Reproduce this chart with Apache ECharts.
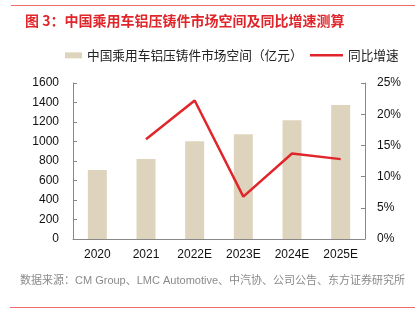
<!DOCTYPE html>
<html>
<head>
<meta charset="utf-8">
<script src="https://cdn.jsdelivr.net/npm/echarts@6/dist/echarts.min.js"></script>
<style>
  html, body { margin: 0; padding: 0; background: #fff; }
  #chart { width: 415px; height: 328px; }
</style>
</head>
<body>
<div id="chart"></div>
<script>
// Market size of aluminium die castings for Chinese passenger cars, and YoY growth
const years = ['2020', '2021', '2022E', '2023E', '2024E', '2025E'];
const marketSize = [708, 820, 1003, 1074, 1217, 1374];        // 亿元
const yoyGrowth = [null, 16.0, 22.2, 6.8, 13.7, 12.8];         // %
const leftTicks = { min: 0, max: 1600, interval: 200 };
const rightTicks = { min: 0, max: 25, interval: 5 };

const barName = '中国乘用车铝压铸件市场空间（亿元）';
const lineName = '同比增速';
const FONT = '"Liberation Sans", "Noto Sans CJK SC", sans-serif';
const CJK = '"Noto Sans CJK SC", sans-serif';
const RED = '#e0262a';

const chart = echarts.init(document.getElementById('chart'), null, { renderer: 'canvas' });

chart.setOption({
  animation: false,
  textStyle: { fontFamily: FONT },
  title: {
    text: '图 3：中国乘用车铝压铸件市场空间及同比增速测算',
    left: 20, top: 9,
    textStyle: { color: RED, fontSize: 14, fontWeight: 'bold', fontFamily: CJK }
  },
  legend: [
    {
      data: [{ name: barName, icon: 'rect' }],
      left: 60, top: 44,
      itemWidth: 17, itemHeight: 6, itemGap: 5,
      textStyle: { fontSize: 12.7, color: '#222', fontFamily: CJK }
    },
    {
      data: [{ name: lineName, icon: 'rect' }],
      left: 305, top: 44,
      itemWidth: 33, itemHeight: 2.5, itemGap: 5,
      textStyle: { fontSize: 12.7, color: '#222', fontFamily: CJK }
    }
  ],
  grid: { left: 73, right: 50, top: 83, bottom: 89, containLabel: false },
  xAxis: {
    type: 'category',
    data: years,
    axisLine: { lineStyle: { color: '#888', width: 1 } },
    axisTick: { inside: true, length: 4, lineStyle: { color: '#888' } },
    axisLabel: { color: '#111', fontSize: 12, margin: 10 }
  },
  yAxis: [
    {
      type: 'value',
      min: leftTicks.min, max: leftTicks.max, interval: leftTicks.interval,
      axisLine: { show: true, lineStyle: { color: '#888' } },
      axisTick: { show: true, inside: true, length: 4, lineStyle: { color: '#888' } },
      axisLabel: { color: '#111', fontSize: 12, margin: 14, formatter: v => String(v) },
      splitLine: { show: false }
    },
    {
      type: 'value',
      position: 'right',
      min: rightTicks.min, max: rightTicks.max, interval: rightTicks.interval,
      axisLine: { show: true, lineStyle: { color: '#888' } },
      axisTick: { show: true, inside: true, length: 4, lineStyle: { color: '#888' } },
      axisLabel: { color: '#111', fontSize: 12, margin: 12, formatter: '{value}%' },
      splitLine: { show: false }
    }
  ],
  series: [
    {
      name: barName,
      type: 'bar',
      data: marketSize,
      yAxisIndex: 0,
      barWidth: '39%',
      itemStyle: { color: '#ded4bd' }
    },
    {
      name: lineName,
      type: 'line',
      data: yoyGrowth,
      yAxisIndex: 1,
      symbol: 'none',
      lineStyle: { color: RED, width: 2.5 },
      itemStyle: { color: RED }
    }
  ],
  graphic: [
    { type: 'line', shape: { x1: 11, y1: 5.5, x2: 415, y2: 5.5 }, style: { stroke: '#ee6b6b', lineWidth: 1 } },
    {
      type: 'text', left: 20, top: 275,
      style: {
        text: '数据来源：CM Group、LMC Automotive、中汽协、公司公告、东方证券研究所',
        fill: '#8a8a8a', fontSize: 11, fontFamily: FONT
      }
    },
    { type: 'line', shape: { x1: 10, y1: 307.5, x2: 415, y2: 307.5 }, style: { stroke: '#ee6b6b', lineWidth: 1 } }
  ]
});
</script>
</body>
</html>
